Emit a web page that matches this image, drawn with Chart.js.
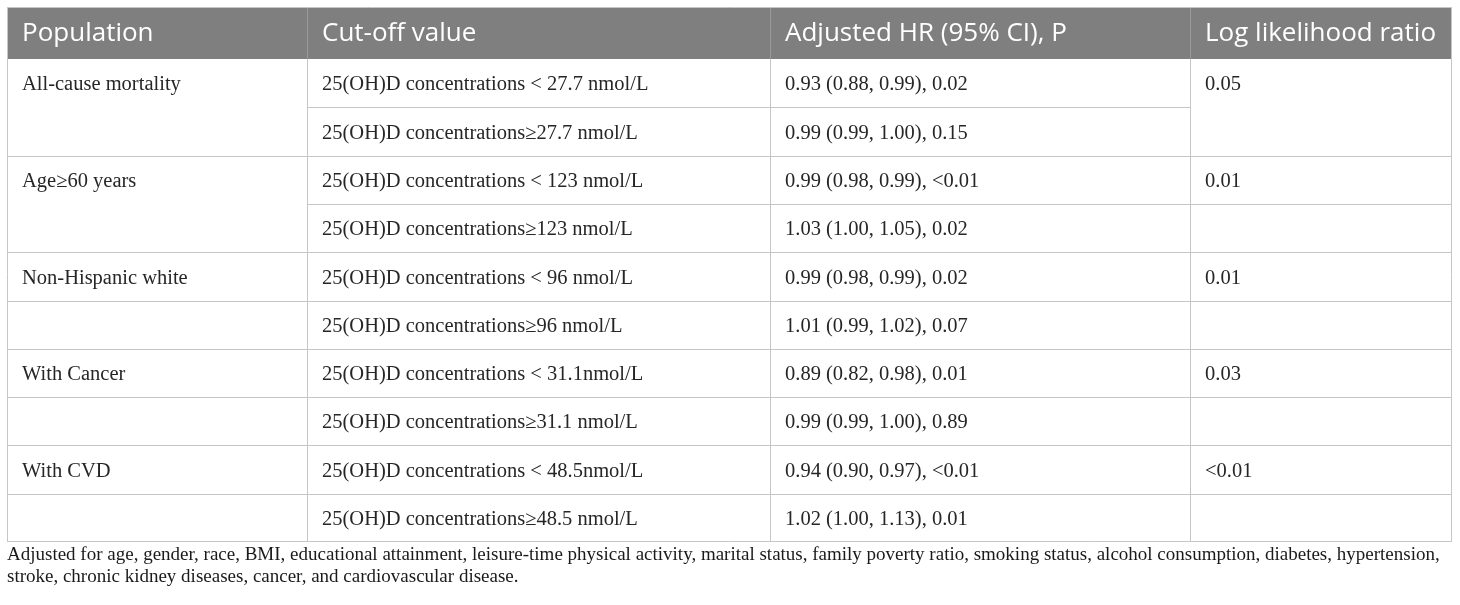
<!DOCTYPE html>
<html>
<head>
<meta charset="utf-8">
<title>25(OH)D cut-off table</title>
<script src="https://cdn.jsdelivr.net/npm/chart.js@4"></script>
<style>
  html, body { margin: 0; padding: 0; background: #fff; }
  #wrap { width: 1460px; height: 605px; position: relative; }
</style>
</head>
<body>
<div id="wrap"><canvas id="tableChart"></canvas></div>
<script>
// Table content, one entry per body row (null = cell merged with the row above)
const HEADERS = ["Population", "Cut-off value", "Adjusted HR (95% CI), P", "Log likelihood ratio"];

const POPULATION = [
  "All-cause mortality", null,
  "Age\u226560 years", null,
  "Non-Hispanic white", "",
  "With Cancer", "",
  "With CVD", ""
];

const CUTOFF = [
  "25(OH)D concentrations < 27.7 nmol/L",
  "25(OH)D concentrations\u226527.7 nmol/L",
  "25(OH)D concentrations < 123 nmol/L",
  "25(OH)D concentrations\u2265123 nmol/L",
  "25(OH)D concentrations < 96 nmol/L",
  "25(OH)D concentrations\u226596 nmol/L",
  "25(OH)D concentrations < 31.1nmol/L",
  "25(OH)D concentrations\u226531.1 nmol/L",
  "25(OH)D concentrations < 48.5nmol/L",
  "25(OH)D concentrations\u226548.5 nmol/L"
];

const ADJUSTED_HR = [
  "0.93 (0.88, 0.99), 0.02",
  "0.99 (0.99, 1.00), 0.15",
  "0.99 (0.98, 0.99), <0.01",
  "1.03 (1.00, 1.05), 0.02",
  "0.99 (0.98, 0.99), 0.02",
  "1.01 (0.99, 1.02), 0.07",
  "0.89 (0.82, 0.98), 0.01",
  "0.99 (0.99, 1.00), 0.89",
  "0.94 (0.90, 0.97), <0.01",
  "1.02 (1.00, 1.13), 0.01"
];

const LOG_LR = ["0.05", null, "0.01", "", "0.01", "", "0.03", "", "<0.01", ""];

const FOOTNOTE = [
  "Adjusted for age, gender, race, BMI, educational attainment, leisure-time physical activity, marital status, family poverty ratio, smoking status, alcohol consumption, diabetes, hypertension,",
  "stroke, chronic kidney diseases, cancer, and cardiovascular disease."
];

// Layout (x in column units, y in row units)
const COL_EDGES = [0, 300, 763, 1183, 1445];
const HEADER_H = 1.08;
const N_ROWS = CUTOFF.length;
const COLUMNS = [POPULATION, CUTOFF, ADJUSTED_HR, LOG_LR];

const tablePlugin = {
  id: "tableDraw",
  afterDraw(chart) {
    const { ctx, scales: { x, y } } = chart;
    const X = (v) => Math.round(x.getPixelForValue(v));
    const Y = (v) => Math.round(y.getPixelForValue(v));
    const left = X(COL_EDGES[0]);
    const right = X(COL_EDGES[COL_EDGES.length - 1]);
    const top = Y(0);
    const bodyTop = Y(HEADER_H);
    const bottom = Y(HEADER_H + N_ROWS);

    ctx.save();

    // header band
    ctx.fillStyle = "#7f7f7f";
    ctx.fillRect(left, top, right - left, bodyTop - top);
    ctx.strokeStyle = "#999999";
    ctx.lineWidth = 1;
    ctx.beginPath();
    COL_EDGES.slice(1, -1).forEach((e) => {
      ctx.moveTo(X(e) + 0.5, top);
      ctx.lineTo(X(e) + 0.5, bodyTop);
    });
    ctx.stroke();

    ctx.fillStyle = "#ffffff";
    ctx.font = "26px 'Open Sans'";
    ctx.textBaseline = "middle";
    HEADERS.forEach((h, c) => {
      ctx.fillText(h, X(COL_EDGES[c]) + 15, (top + bodyTop) / 2 + 1);
    });

    // grid lines
    ctx.strokeStyle = "#c6c6c6";
    ctx.beginPath();
    for (let r = 1; r < N_ROWS; r++) {
      const yy = Y(HEADER_H + r) + 0.5;
      COLUMNS.forEach((col, c) => {
        if (col[r] === null) return;
        ctx.moveTo(X(COL_EDGES[c]), yy);
        ctx.lineTo(X(COL_EDGES[c + 1]), yy);
      });
    }
    COL_EDGES.forEach((e, i) => {
      const xx = X(e) + (i === COL_EDGES.length - 1 ? -0.5 : 0.5);
      ctx.moveTo(xx, i === 0 || i === COL_EDGES.length - 1 ? top : bodyTop);
      ctx.lineTo(xx, bottom);
    });
    ctx.moveTo(left, top + 0.5);
    ctx.lineTo(right, top + 0.5);
    ctx.moveTo(left, bottom - 0.5);
    ctx.lineTo(right, bottom - 0.5);
    ctx.stroke();

    // body text
    ctx.fillStyle = "#262626";
    ctx.font = "20.5px 'Liberation Serif'";
    COLUMNS.forEach((col, c) => {
      col.forEach((txt, r) => {
        if (!txt) return;
        const yc = (Y(HEADER_H + r) + Y(HEADER_H + r + 1)) / 2;
        ctx.fillText(txt, X(COL_EDGES[c]) + 15, yc + 2);
      });
    });

    // footnote
    ctx.fillStyle = "#1a1a1a";
    ctx.font = "19px 'Liberation Serif'";
    ctx.textBaseline = "alphabetic";
    FOOTNOTE.forEach((line, i) => {
      ctx.fillText(line, left, bottom + 18 + i * 22);
    });

    ctx.restore();
  }
};

new Chart(document.getElementById("tableChart").getContext("2d"), {
  type: "scatter",
  data: { datasets: [] },
  options: {
    responsive: true,
    maintainAspectRatio: false,
    animation: false,
    layout: { padding: { left: 7, right: 8, top: 7, bottom: 63 } },
    plugins: { legend: { display: false }, tooltip: { enabled: false } },
    scales: {
      x: { type: "linear", min: COL_EDGES[0], max: COL_EDGES[COL_EDGES.length - 1], display: false },
      y: { type: "linear", min: 0, max: HEADER_H + N_ROWS, reverse: true, display: false }
    }
  },
  plugins: [tablePlugin]
});
</script>
</body>
</html>
